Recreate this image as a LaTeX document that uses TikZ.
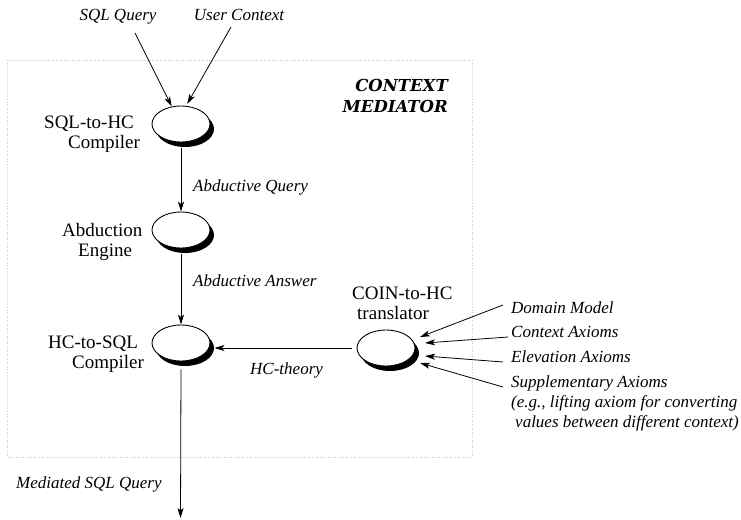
\documentclass[tikz,border=0pt]{standalone}
\usepackage{fontspec}
\setmainfont{Liberation Serif}
\newfontfamily\headfont{DejaVu Serif}
\usetikzlibrary{arrows.meta,shapes.geometric,shadows}

\tikzset{
  proc/.style={ellipse, draw, line width=0.9pt, fill=white,
    minimum width=58pt, minimum height=36pt, inner sep=0pt,
    drop shadow={shadow xshift=4pt, shadow yshift=-5pt, fill=black, opacity=1}},
  upr/.style={font=\fontsize{19}{20}\selectfont, align=left, inner sep=0pt, anchor=base west},
  ital/.style={font=\itshape\fontsize{17}{20}\selectfont, inner sep=0pt},
  arr/.style={line width=0.8pt, -{Stealth[length=10pt,width=6pt,inset=2.5pt]}},
  frame/.style={gray!45, dotted, line width=0.6pt}
}

\begin{document}
\begin{tikzpicture}[x=1pt,y=-1pt]
\useasboundingbox (0,0) rectangle (741,519);

% mediator boundary
\draw[frame] (7,60) rectangle (472,457);
\node[font=\headfont\bfseries\itshape\fontsize{16.5}{21}\selectfont, align=right,
      inner sep=0pt, anchor=base east] (med) at (448,112) {CONTEXT\\MEDIATOR};

% processing components
\node[proc] (sqlhc) at (181,124) {};
\node[proc] (abd)   at (181,230) {};
\node[proc] (hcsql) at (181,343) {};
\node[proc] (coin)  at (386,348) {};

% component names (anchored at the baseline of the last line)
\node[upr] (sqlhcL) at (44,148)  {SQL-to-HC\\\hspace*{24pt}Compiler};
\node[upr] (abdL)   at (62,256)  {Abduction\\\hspace*{16pt}Engine};
\node[upr] (hcsqlL) at (48,368)  {HC-to-SQL\\\hspace*{24pt}Compiler};
\node[upr] (coinL)  at (352,319) {COIN-to-HC\\\hspace*{5pt}translator};

% inputs and outputs
\node[ital, anchor=base] (sqlq) at (118,21) {SQL Query};
\node[ital, anchor=base] (uctx) at (239,21) {User Context};
\node[ital, anchor=base west] (abq) at (193,191) {Abductive Query};
\node[ital, anchor=base west] (aba) at (193,286) {Abductive Answer};
\node[ital, anchor=base west] (hct) at (250,374) {HC-theory};
\node[ital, anchor=base west] (msq) at (16,488) {Mediated SQL Query};

\node[ital, anchor=base west] (dm) at (511,313) {Domain Model};
\node[ital, anchor=base west] (ca) at (511,337) {Context Axioms};
\node[ital, anchor=base west] (ea) at (511,362) {Elevation Axioms};
\node[ital, anchor=base west, align=left] (sa) at (511,427)
  {Supplementary Axioms\\(e.g., lifting axiom for converting\\\hspace*{4pt}values between different context)};

% connector end points
\coordinate (sqlqS) at (135,33);
\coordinate (uctxS) at (231,27);
\coordinate (outE)  at (180.5,518);
\coordinate (hcsqlR) at ([xshift=4pt]hcsql.east);
\coordinate (dmT) at ([shift={(34,-11)}]coin.center);
\coordinate (caT) at ([shift={(39,-5)}]coin.center);
\coordinate (eaT) at ([shift={(39,8)}]coin.center);
\coordinate (saT) at ([shift={(34,15)}]coin.center);

% flow
\draw[arr] (sqlqS) -- (sqlhc.118);
\draw[arr] (uctxS) -- ([yshift=2pt]sqlhc.71);
\draw[arr] ([yshift=-6pt]sqlhc.south) -- (abd.north);
\draw[arr] ([yshift=-6pt]abd.south) -- (hcsql.north);
\draw[arr] ([yshift=-8pt]hcsql.south) -- (outE);
\draw[arr] ([xshift=-5pt]coin.west) -- (hcsqlR |- coin.west);

\draw[arr] ([xshift=-8pt,yshift=8pt]dm.base west) -- (dmT);
\draw[arr] ([xshift=-3pt]ca.base west) -- (caT);
\draw[arr] ([xshift=-8pt]ea.base west) -- (eaT);
\draw[arr] ([xshift=-8pt,yshift=40pt]sa.base west) -- (saT);
\end{tikzpicture}
\end{document}
